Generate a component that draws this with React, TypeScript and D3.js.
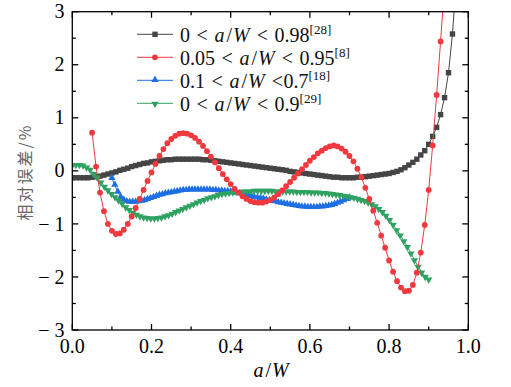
import React from "react";
import * as d3 from "d3";

// ---- data ----
// series 1: 0 < a/W < 0.98, x = 0.00 .. 0.98 step 0.01
const BLACK_START = 0;
const BLACK_STEP = 0.01;
const blackY = [
  -0.13, -0.13, -0.13, -0.13, -0.13, -0.12, -0.11, -0.1, -0.08, -0.06,
  -0.04, -0.02, 0.01, 0.03, 0.05, 0.08, 0.1, 0.12, 0.14, 0.15,
  0.17, 0.18, 0.19, 0.2, 0.21, 0.21, 0.22, 0.22, 0.22, 0.22,
  0.22, 0.22, 0.22, 0.21, 0.21, 0.2, 0.19, 0.18, 0.17, 0.16,
  0.15, 0.14, 0.13, 0.12, 0.11, 0.1, 0.09, 0.08, 0.07, 0.06,
  0.05, 0.04, 0.03, 0.02, 0.01, -0.01, -0.02, -0.03, -0.04, -0.05,
  -0.06, -0.07, -0.08, -0.09, -0.1, -0.11, -0.12, -0.12, -0.13, -0.13,
  -0.13, -0.13, -0.12, -0.12, -0.11, -0.1, -0.09, -0.08, -0.07, -0.06,
  -0.05, -0.03, -0.01, 0.02, 0.06, 0.11, 0.16, 0.22, 0.3, 0.38,
  0.5, 0.65, 0.82, 1.06, 1.38, 1.85, 2.58, 3.6, 5.0,
];

// series 2: 0.05 < a/W < 0.95, x = 0.05 .. 0.95 step 0.01
const RED_START = 0.05;
const RED_STEP = 0.01;
const redY = [
  0.72, 0.08, -0.41, -0.76, -1.0, -1.13, -1.19, -1.18, -1.11, -1.0,
  -0.86, -0.7, -0.53, -0.36, -0.19, -0.03, 0.13, 0.28, 0.41, 0.52,
  0.6, 0.66, 0.7, 0.71, 0.7, 0.67, 0.62, 0.55, 0.47, 0.37,
  0.27, 0.16, 0.05, -0.06, -0.16, -0.25, -0.34, -0.41, -0.48, -0.53,
  -0.57, -0.59, -0.6, -0.6, -0.58, -0.55, -0.5, -0.44, -0.37, -0.29,
  -0.21, -0.13, -0.05, 0.03, 0.11, 0.19, 0.26, 0.33, 0.38, 0.43,
  0.46, 0.48, 0.46, 0.42, 0.36, 0.28, 0.18, 0.04, -0.12, -0.32,
  -0.53, -0.75, -0.98, -1.22, -1.45, -1.69, -1.9, -2.08, -2.2, -2.27,
  -2.26, -2.15, -1.92, -1.54, -1.02, -0.36, 0.48, 1.43, 2.44, 3.5,
  4.6,
];

// series 3: 0.1 < a/W < 0.7, x = 0.1 .. 0.7 step 0.0075
const BLUE_START = 0.1;
const BLUE_STEP = 0.0075;
const blueY = [
  -0.14, -0.27, -0.4, -0.5, -0.55, -0.58, -0.59, -0.59, -0.59, -0.58,
  -0.57, -0.56, -0.54, -0.52, -0.5, -0.48, -0.46, -0.45, -0.43, -0.42,
  -0.41, -0.4, -0.39, -0.38, -0.37, -0.37, -0.36, -0.36, -0.36, -0.36,
  -0.36, -0.36, -0.36, -0.36, -0.37, -0.37, -0.38, -0.38, -0.39, -0.39,
  -0.4, -0.41, -0.42, -0.43, -0.44, -0.46, -0.47, -0.48, -0.5, -0.51,
  -0.52, -0.53, -0.55, -0.56, -0.57, -0.58, -0.6, -0.61, -0.62, -0.63,
  -0.64, -0.65, -0.66, -0.67, -0.68, -0.68, -0.69, -0.69, -0.69, -0.69,
  -0.68, -0.68, -0.67, -0.66, -0.65, -0.63, -0.61, -0.59, -0.56, -0.54,
  -0.51,
];

// series 4: 0 < a/W < 0.9, x = 0 .. 0.9 step 0.009
const GREEN_START = 0;
const GREEN_STEP = 0.009;
const greenY = [
  0.11, 0.12, 0.12, 0.11, 0.07, 0.03, -0.05, -0.12, -0.21, -0.29,
  -0.36, -0.43, -0.49, -0.55, -0.61, -0.68, -0.73, -0.78, -0.82, -0.85,
  -0.87, -0.88, -0.89, -0.89, -0.88, -0.87, -0.85, -0.83, -0.8, -0.77,
  -0.74, -0.71, -0.68, -0.65, -0.62, -0.59, -0.56, -0.54, -0.51, -0.49,
  -0.47, -0.45, -0.43, -0.42, -0.41, -0.4, -0.39, -0.39, -0.38, -0.38,
  -0.38, -0.37, -0.37, -0.37, -0.37, -0.37, -0.37, -0.38, -0.38, -0.38,
  -0.38, -0.38, -0.38, -0.39, -0.39, -0.39, -0.39, -0.4, -0.4, -0.4,
  -0.41, -0.41, -0.42, -0.43, -0.44, -0.45, -0.46, -0.47, -0.49, -0.5,
  -0.52, -0.54, -0.56, -0.59, -0.62, -0.66, -0.71, -0.77, -0.84, -0.92,
  -1.01, -1.11, -1.21, -1.32, -1.43, -1.55, -1.68, -1.8, -1.91, -1.99,
  -2.04,
];

const xTickLabels = ["0.0", "0.2", "0.4", "0.6", "0.8", "1.0"];
const yTickLabels = ["\u2212 3", "\u2212 2", "\u2212 1", "0", "1", "2", "3"];

const legendEntries = [
  { key: "black", lo: "0", hi: "0.98", ref: "[28]", gap: 6.6 },
  { key: "red", lo: "0.05", hi: "0.95", ref: "[8]", gap: 6.6 },
  { key: "blue", lo: "0.1", hi: "0.7", ref: "[18]", gap: 0.5 },
  { key: "green", lo: "0", hi: "0.9", ref: "[29]", gap: 6.6 },
];

const COLORS: Record<string, string> = {
  black: "#454545",
  red: "#f0393e",
  blue: "#1f6fe3",
  green: "#2fa262",
};

// ---- layout ----
const W = 511;
const H = 387;
const PL = 72.3;
const PR = 468.3;
const PT = 11.7;
const PB = 330;
const SERIF = "'Liberation Serif', 'Times New Roman', serif";

const x = d3.scaleLinear().domain([0, 1]).range([PL, PR]);
const y = d3.scaleLinear().domain([-3, 3]).range([PB, PT]);

type Pt = [number, number];
const toPts = (start: number, step: number, ys: number[]): Pt[] =>
  ys.map((v, i) => [start + i * step, v]);

const series = [
  { key: "black", pts: toPts(BLACK_START, BLACK_STEP, blackY) },
  { key: "blue", pts: toPts(BLUE_START, BLUE_STEP, blueY) },
  { key: "green", pts: toPts(GREEN_START, GREEN_STEP, greenY) },
  { key: "red", pts: toPts(RED_START, RED_STEP, redY) },
];

const line = d3
  .line<Pt>()
  .x((d) => x(d[0]))
  .y((d) => y(d[1]));

const triPath = d3.symbol(d3.symbolTriangle, 23)() as string;

function Marker({ kind, cx, cy }: { kind: string; cx: number; cy: number }) {
  const c = COLORS[kind];
  if (kind === "black")
    return <rect x={cx - 2.7} y={cy - 2.7} width={5.4} height={5.4} fill={c} />;
  if (kind === "red") return <circle cx={cx} cy={cy} r={2.9} fill={c} />;
  if (kind === "blue")
    return <path d={triPath} transform={`translate(${cx},${cy - 0.5})`} fill={c} />;
  return (
    <path d={triPath} transform={`translate(${cx},${cy + 0.5}) rotate(180)`} fill={c} />
  );
}

export default function App() {
  const xMajor = x.ticks(5);
  const xMinor = x.ticks(10).filter((t) => Math.abs(t * 10) % 2 > 0.5);
  const yMajor = y.ticks(6);
  const yMinor = y.ticks(12).filter((t) => Math.abs(t % 1) > 0.25);

  return (
    <svg
      width={W}
      height={H}
      style={{ position: "absolute", left: 0, top: 0, background: "#fff" }}
    >
      <defs>
        <clipPath id="plot">
          <rect x={PL} y={PT} width={PR - PL} height={PB - PT} />
        </clipPath>
      </defs>
      <rect width={W} height={H} fill="#fff" />

      {/* data */}
      <g clipPath="url(#plot)">
        {series.map((s) => (
          <g key={s.key}>
            <path d={line(s.pts) as string} fill="none" stroke={COLORS[s.key]} strokeWidth={1} />
            {s.pts.map((p, i) => (
              <Marker key={i} kind={s.key} cx={x(p[0])} cy={y(p[1])} />
            ))}
          </g>
        ))}
      </g>

      {/* frame and ticks */}
      <g stroke="#000" strokeWidth={1.3}>
        <rect x={PL} y={PT} width={PR - PL} height={PB - PT} fill="none" />
        {xMajor.map((t) => (
          <g key={"xM" + t}>
            <line x1={x(t)} x2={x(t)} y1={PB} y2={PB - 6} />
            <line x1={x(t)} x2={x(t)} y1={PT} y2={PT + 6} />
          </g>
        ))}
        {xMinor.map((t) => (
          <g key={"xm" + t}>
            <line x1={x(t)} x2={x(t)} y1={PB} y2={PB - 3.5} />
            <line x1={x(t)} x2={x(t)} y1={PT} y2={PT + 3.5} />
          </g>
        ))}
        {yMajor.map((t) => (
          <g key={"yM" + t}>
            <line x1={PL} x2={PL + 6} y1={y(t)} y2={y(t)} />
            <line x1={PR} x2={PR - 6} y1={y(t)} y2={y(t)} />
          </g>
        ))}
        {yMinor.map((t) => (
          <g key={"ym" + t}>
            <line x1={PL} x2={PL + 3.5} y1={y(t)} y2={y(t)} />
            <line x1={PR} x2={PR - 3.5} y1={y(t)} y2={y(t)} />
          </g>
        ))}
      </g>

      {/* tick labels */}
      <g fontFamily={SERIF} fontSize={20} fill="#000">
        {xMajor.map((t, i) => (
          <text key={"xl" + t} x={x(t)} y={353} textAnchor="middle">
            {xTickLabels[i]}
          </text>
        ))}
        {yMajor.map((t, i) => (
          <text
            key={"yl" + t}
            x={64.5}
            y={y(t) + 6.6}
            textAnchor="end"
            style={{ whiteSpace: "pre" }}
          >
            {yTickLabels[i]}
          </text>
        ))}
      </g>

      {/* axis titles */}
      <text x={253.5} y={377} fontFamily={SERIF} fontSize={20} fill="#000">
        <tspan fontStyle="italic">a</tspan>
        <tspan dx={2}>/</tspan>
        <tspan dx={1} fontStyle="italic">W</tspan>
      </text>
      <text
        transform="translate(31,172) rotate(-90)"
        textAnchor="middle"
        fontFamily="'Noto Sans CJK SC', sans-serif"
        fontSize={16}
        letterSpacing={2}
        fill="#666"
      >
        相对误差/%
      </text>

      {/* legend */}
      {legendEntries.map((e, i) => {
        const ry = 34.3 + i * 23;
        return (
          <g key={e.key}>
            <line x1={137} x2={173} y1={ry} y2={ry} stroke={COLORS[e.key]} strokeWidth={1} />
            <Marker kind={e.key} cx={155} cy={ry} />
            <text x={180} y={ry + 7.4} fontFamily={SERIF} fontSize={20} fill="#111">
              <tspan>{e.lo}</tspan>
              <tspan dx={6.6}>&lt;</tspan>
              <tspan dx={6.6} fontStyle="italic">a</tspan>
              <tspan dx={2}>/</tspan>
              <tspan dx={1} fontStyle="italic">W</tspan>
              <tspan dx={7}>&lt;</tspan>
              <tspan dx={e.gap}>{e.hi}</tspan>
              <tspan dy={-8} fontSize={13}>{e.ref}</tspan>
            </text>
          </g>
        );
      })}
    </svg>
  );
}
